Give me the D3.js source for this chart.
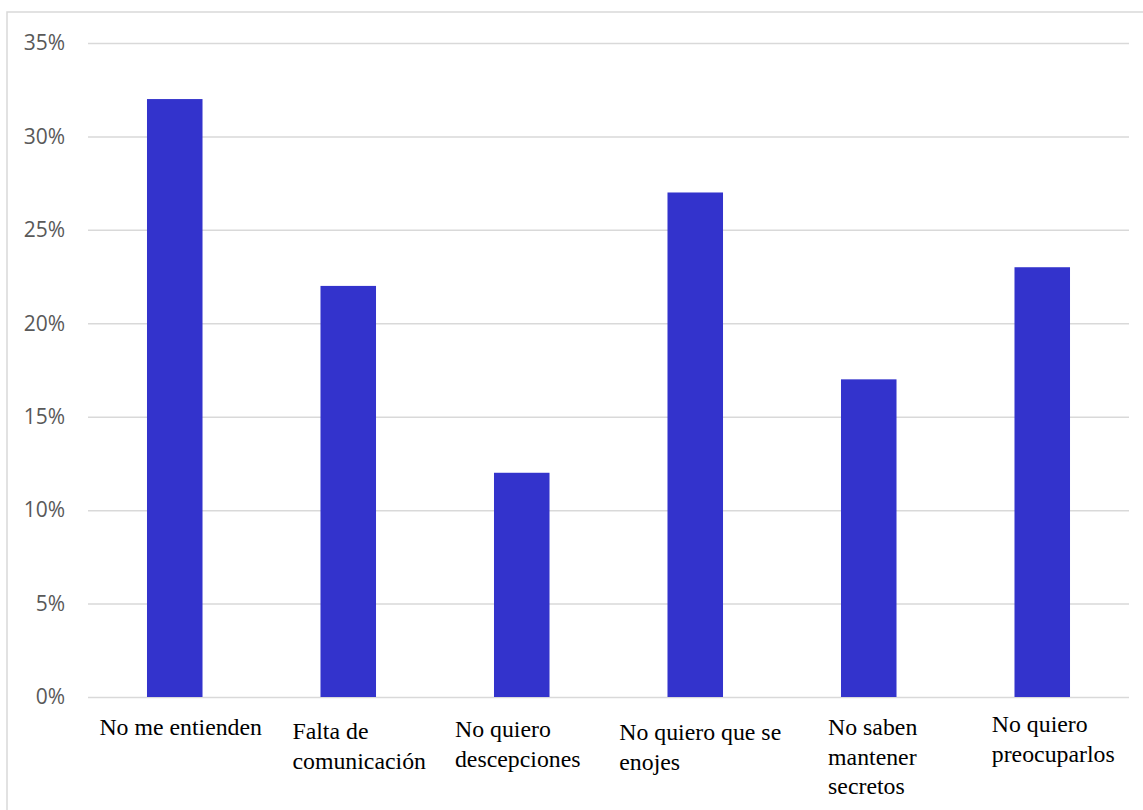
<html lang="es">
<head>
  <meta charset="UTF-8" />
  <script src="https://d3js.org/d3.v7.min.js"></script>
  <style>
    body { margin: 0; background: #fff; }
    .gridlines .domain { display: none; }
    .gridlines line { stroke: #d9d9d9; stroke-width: 1.5px; }
    .yaxis .domain, .yaxis line { display: none; }
    .yaxis text { font-family: "Open Sans", sans-serif; font-size: 21px; fill: #595959; }
    .xlabel { font-family: "Liberation Serif", "DejaVu Serif", serif; font-size: 23.8px; fill: #000; }
  </style>
</head>
<body>
  <svg id="chart" width="1143" height="810"></svg>
  <script>
    // data
    const categories = [
      ["No me entienden"],
      ["Falta de", "comunicación"],
      ["No quiero", "descepciones"],
      ["No quiero que se", "enojes"],
      ["No saben", "mantener", "secretos"],
      ["No quiero", "preocuparlos"]
    ];
    const values = [0.32, 0.22, 0.12, 0.27, 0.17, 0.23];
    const yTicks = [0, 0.05, 0.10, 0.15, 0.20, 0.25, 0.30, 0.35];

    // small shifts of each label block, as in the original
    const labelDx = [3, 8, -7, 2, 1, 8];
    const labelDy = [1, 5, 3, 6, 1, -2];

    const svg = d3.select("svg#chart");
    const margin = { top: 43, right: 14, bottom: 113, left: 88 };
    const width = +svg.attr("width");
    const height = +svg.attr("height");
    const chartWidth = width - margin.left - margin.right;
    const chartHeight = height - margin.top - margin.bottom;

    // outer frame
    svg.append("rect")
      .attr("x", 7).attr("y", 12)
      .attr("width", width).attr("height", height)
      .attr("fill", "none")
      .attr("stroke", "#d9d9d9")
      .attr("stroke-width", 1.5);

    const idx = categories.map((c, i) => i);
    const xScale = d3.scaleBand()
      .domain(idx)
      .range([0, chartWidth])
      .paddingInner(0.68)
      .paddingOuter(0.34);

    const yScale = d3.scaleLinear()
      .domain([0, 0.35])
      .range([chartHeight, 0]);

    const chartArea = svg.append("g")
      .attr("transform", `translate(${margin.left},${margin.top})`);

    // gridlines
    chartArea.append("g")
      .attr("class", "gridlines")
      .call(d3.axisLeft(yScale).tickValues(yTicks).tickSize(-chartWidth).tickFormat(""));

    // y axis labels
    chartArea.append("g")
      .attr("class", "yaxis")
      .attr("transform", "translate(-23,0)")
      .call(d3.axisLeft(yScale).tickValues(yTicks).tickSize(0).tickPadding(0).tickFormat(d3.format(".0%")));

    // bars
    chartArea.selectAll("rect.bar")
      .data(values)
      .join("rect")
      .attr("class", "bar")
      .attr("x", (d, i) => xScale(i))
      .attr("width", xScale.bandwidth())
      .attr("y", d => yScale(d))
      .attr("height", d => chartHeight - yScale(d))
      .attr("fill", "#3333cc");

    // category labels: block centred under bar, lines left-aligned
    categories.forEach((lines, i) => {
      const t = chartArea.append("text")
        .attr("class", "xlabel")
        .attr("y", chartHeight + 37 + labelDy[i]);
      lines.forEach((line, j) => {
        t.append("tspan")
          .attr("x", 0)
          .attr("dy", j === 0 ? 0 : 29.5)
          .text(line);
      });
      const w = t.node().getBBox().width;
      const cx = xScale(i) + xScale.bandwidth() / 2;
      t.selectAll("tspan").attr("x", cx - w / 2 + 3 + labelDx[i]);
    });
  </script>
</body>
</html>
